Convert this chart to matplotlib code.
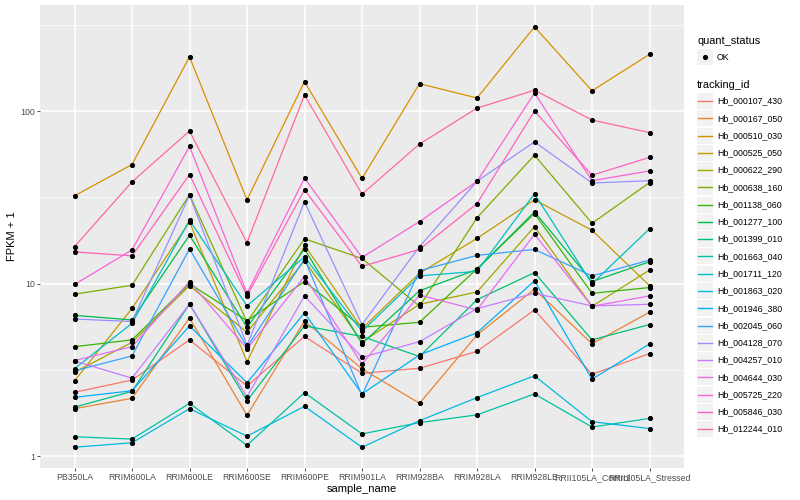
import matplotlib
matplotlib.use('Agg')
import matplotlib.pyplot as plt
from matplotlib.patches import Rectangle
from matplotlib.lines import Line2D

plt.rcParams['font.family'] = ['Liberation Sans', 'DejaVu Sans']

# x categories
samples = ['PB350LA', 'RRIM600LA', 'RRIM600LE', 'RRIM600SE', 'RRIM600PE', 'RRIM901LA',
           'RRIM928BA', 'RRIM928LA', 'RRIM928LE', 'RRII105LA_Control', 'RRII105LA_Stressed']

tracking_ids = ['Hb_000107_430', 'Hb_000167_050', 'Hb_000510_030', 'Hb_000525_050',
                'Hb_000622_290', 'Hb_000638_160', 'Hb_001138_060', 'Hb_001277_100',
                'Hb_001399_010', 'Hb_001663_040', 'Hb_001711_120', 'Hb_001863_020',
                'Hb_001946_380', 'Hb_002045_060', 'Hb_004128_070', 'Hb_004257_010',
                'Hb_004644_030', 'Hb_005725_220', 'Hb_005846_030', 'Hb_012244_010']

# ggplot hue palette, 20 levels
colors = ['#F8766D', '#EA8331', '#D89000', '#C09B00', '#A3A500', '#7CAE00', '#39B600',
          '#00BB4E', '#00BF7D', '#00C1A3', '#00BFC4', '#00BAE0', '#00B0F6', '#35A2FF',
          '#9590FF', '#C77CFF', '#E76BF3', '#FA62DB', '#FF62BC', '#FF6C91']

# FPKM + 1 values
hb_000107_430 = [2.35, 2.77, 4.73, 2.56, 4.95, 3.03, 3.24, 4.06, 7.05, 2.99, 3.94]
hb_000167_050 = [1.89, 2.17, 6.33, 1.73, 6.08, 3.22, 2.03, 5.05, 9.3, 4.49, 6.84]
hb_000510_030 = [32.3, 49, 206, 30.6, 148, 40.7, 144, 119, 307, 131, 213]
hb_000525_050 = [2.74, 7.2, 22.8, 3.54, 16.7, 5.5, 11.5, 18.3, 30.6, 20.4, 9.75]
hb_000622_290 = [3.07, 4.58, 9.75, 5.23, 13.6, 4.6, 7.6, 8.96, 21.4, 7.4, 12.0]
hb_000638_160 = [8.7, 9.8, 32.8, 6.0, 18.2, 14.0, 7.4, 24.1, 55.5, 22.4, 38.5]
hb_001138_060 = [4.32, 4.73, 10.0, 6.1, 10.3, 5.6, 5.98, 12.2, 25.5, 8.8, 9.5]
hb_001277_100 = [6.56, 6.17, 19.1, 5.6, 15.9, 4.5, 9.1, 12.1, 26.1, 10.3, 13.4]
hb_001399_010 = [1.93, 2.38, 7.63, 2.10, 5.7, 4.95, 3.79, 8.08, 11.6, 4.73, 5.8]
hb_001663_040 = [1.30, 1.26, 2.03, 1.16, 2.34, 1.35, 1.57, 1.74, 2.30, 1.48, 1.66]
hb_001711_120 = [3.22, 5.9, 23.3, 7.45, 14.3, 5.3, 11.1, 11.8, 33.2, 10.0, 20.8]
hb_001863_020 = [1.13, 1.20, 1.89, 1.31, 1.95, 1.13, 1.61, 2.19, 2.93, 1.59, 1.45]
hb_001946_380 = [2.20, 2.40, 5.7, 2.67, 6.77, 2.30, 3.87, 5.2, 10.4, 2.80, 4.48]
hb_002045_060 = [3.13, 3.82, 15.9, 4.3, 13.9, 2.26, 11.9, 14.6, 15.8, 11.1, 13.7]
hb_004128_070 = [6.25, 6.04, 32.5, 4.4, 29.8, 5.8, 16.4, 39.2, 66.3, 38.3, 39.5]
hb_004257_010 = [3.57, 2.84, 7.63, 2.22, 8.5, 3.75, 4.62, 7.18, 8.8, 7.44, 7.6]
hb_004644_030 = [3.59, 4.32, 10.3, 4.2, 11.0, 3.43, 8.6, 7.05, 19.3, 7.4, 8.5]
hb_005725_220 = [9.9, 15.7, 62.4, 8.8, 40.9, 14.2, 22.9, 39.2, 127, 39.5, 45]
hb_005846_030 = [15.3, 14.5, 42.9, 8.5, 35, 12.6, 15.8, 29.1, 100, 42.5, 53.9]
hb_012244_010 = [16.4, 38.9, 76.6, 17.3, 124, 33, 64.4, 104, 132, 88.7, 75]

series = [hb_000107_430, hb_000167_050, hb_000510_030, hb_000525_050, hb_000622_290,
          hb_000638_160, hb_001138_060, hb_001277_100, hb_001399_010, hb_001663_040,
          hb_001711_120, hb_001863_020, hb_001946_380, hb_002045_060, hb_004128_070,
          hb_004257_010, hb_004644_030, hb_005725_220, hb_005846_030, hb_012244_010]

W, H = 800, 500
fig = plt.figure(figsize=(8, 5), dpi=100)

# panel area in pixels: left 40, right 684, top 5, bottom 468
ax = fig.add_axes([40 / W, 1 - 468 / H, 644 / W, 463 / H])
ax.set_facecolor('#EBEBEB')

x = list(range(len(samples)))
for vals, col in zip(series, colors):
    ax.plot(x, vals, color=col, lw=0.9, zorder=3)
for vals in series:
    ax.plot(x, vals, ls='none', marker='o', ms=2.7, color='black', zorder=4)

ax.set_yscale('log')
ax.set_ylim(10 ** -0.067, 10 ** 2.614)
ax.set_xlim(-0.6, len(samples) - 0.4)

ax.set_yticks([1, 10, 100])
ax.set_yticklabels(['1', '10', '100'])
ax.set_yticks([10 ** 0.5, 10 ** 1.5, 10 ** 2.5], minor=True)
ax.yaxis.set_minor_formatter(plt.NullFormatter())
ax.set_xticks(x)
ax.set_xticklabels(samples)

ax.grid(True, which='major', color='white', lw=1.1, zorder=0)
ax.grid(True, which='minor', axis='y', color='white', lw=0.5, zorder=0)
ax.set_axisbelow(True)
for s in ax.spines.values():
    s.set_visible(False)
ax.tick_params(axis='both', which='major', length=2.5, width=0.6, color='#333333',
               labelsize=6.3, labelcolor='#4D4D4D', pad=1.2)
ax.tick_params(axis='y', which='minor', length=0)

ax.set_xlabel('sample_name', fontsize=8, labelpad=1.5)
ax.set_ylabel('FPKM + 1', fontsize=8, labelpad=2)

# legend drawn by hand, ggplot style
def fx(px):
    return px / W

def fy(py):
    return 1 - py / H

fig.text(fx(697), fy(41), 'quant_status', fontsize=7.9, va='center', ha='left')
fig.patches.append(Rectangle((fx(697), fy(65)), 16 / W, 16 / H, transform=fig.transFigure,
                             facecolor='#F2F2F2', edgecolor='none'))
fig.lines.append(Line2D([fx(705)], [fy(57)], transform=fig.transFigure, marker='o',
                        ms=2.7, color='black', ls='none'))
fig.text(fx(717), fy(57), 'OK', fontsize=6.3, va='center', ha='left')

fig.text(fx(697), fy(84.5), 'tracking_id', fontsize=7.9, va='center', ha='left')
step = 17.27
for i, (name, col) in enumerate(zip(tracking_ids, colors)):
    cy = 101 + i * step
    fig.patches.append(Rectangle((fx(697), fy(cy + 8)), 16 / W, 16 / H,
                                 transform=fig.transFigure, facecolor='#F2F2F2',
                                 edgecolor='none'))
    fig.lines.append(Line2D([fx(698), fx(712)], [fy(cy), fy(cy)], transform=fig.transFigure,
                            color=col, lw=1.0))
    fig.text(fx(717), fy(cy), name, fontsize=6.3, va='center', ha='left')

fig.savefig('out.png', dpi=100)
